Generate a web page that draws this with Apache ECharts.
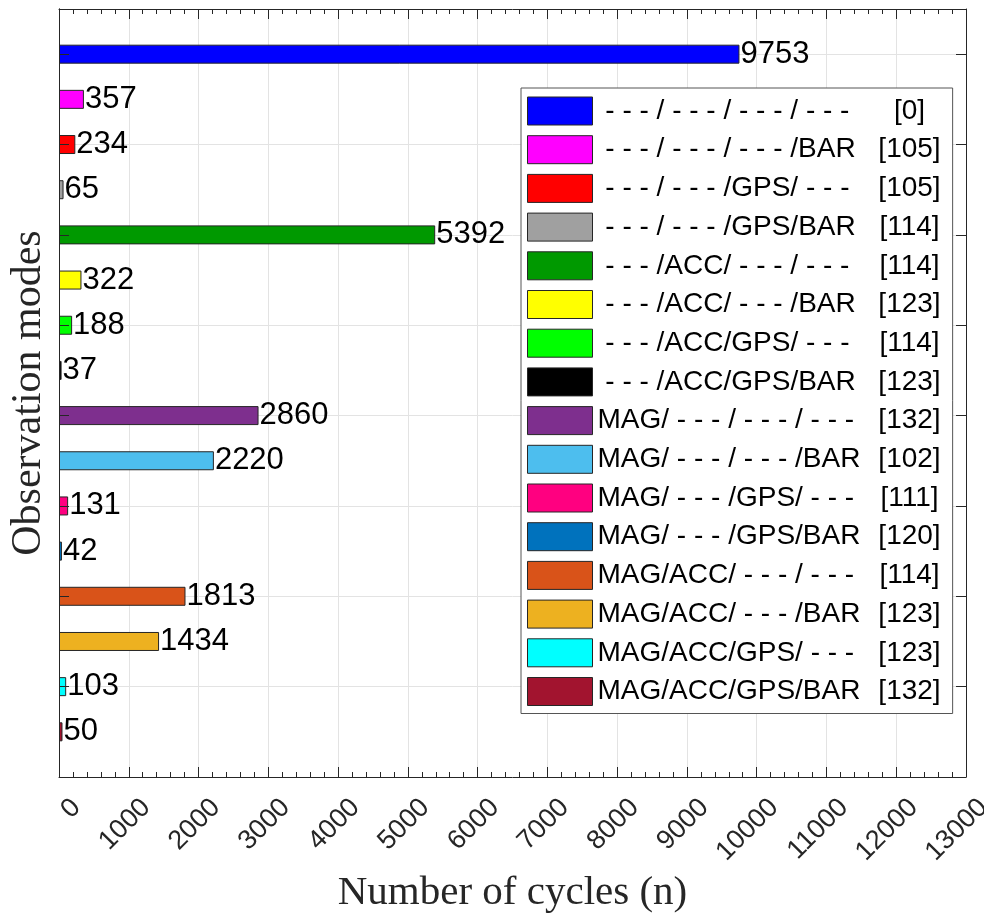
<!DOCTYPE html>
<html>
<head>
<meta charset="utf-8">
<script src="https://cdn.jsdelivr.net/npm/echarts@6/dist/echarts.min.js"></script>
<style>
  html, body { margin: 0; padding: 0; background: #fff; }
  #chart { width: 984px; height: 918px; }
</style>
</head>
<body>
<div id="chart"></div>
<script>
// observation modes (top to bottom)
const modes = [
  '- - - / - - - / - - - / - - -',
  '- - - / - - - / - - - /BAR',
  '- - - / - - - /GPS/ - - -',
  '- - - / - - - /GPS/BAR',
  '- - - /ACC/ - - - / - - -',
  '- - - /ACC/ - - - /BAR',
  '- - - /ACC/GPS/ - - -',
  '- - - /ACC/GPS/BAR',
  'MAG/ - - - / - - - / - - -',
  'MAG/ - - - / - - - /BAR',
  'MAG/ - - - /GPS/ - - -',
  'MAG/ - - - /GPS/BAR',
  'MAG/ACC/ - - - / - - -',
  'MAG/ACC/ - - - /BAR',
  'MAG/ACC/GPS/ - - -',
  'MAG/ACC/GPS/BAR'
];
const codes = [0, 105, 105, 114, 114, 123, 114, 123, 132, 102, 111, 120, 114, 123, 123, 132];
const counts = [9753, 357, 234, 65, 5392, 322, 188, 37, 2860, 2220, 131, 42, 1813, 1434, 103, 50];
const colors = [
  '#0000ff', '#ff00ff', '#ff0000', '#a0a0a0', '#009900', '#ffff00', '#00ff00', '#000000',
  '#7e2f8e', '#4dbeee', '#ff0080', '#0072bd', '#d95319', '#edb120', '#00ffff', '#a2142f'
];
const xMax = 13000;
const xStep = 1000;

const chart = echarts.init(document.getElementById('chart'));

// empty slot at each end so the bars sit at 1..16 on a 0..17 axis
const yCats = [''].concat(modes, ['']);
const oddTick = (idx) => idx % 2 === 1 && idx < yCats.length - 1;

const axisColor = '#262626';
const gridColor = '#e3e3e3';

const series = counts.map((v, i) => ({
  name: modes[i],
  type: 'bar',
  data: [[v, i + 1]],
  barWidth: 19,
  barGap: '-100%',
  itemStyle: { color: colors[i], borderColor: '#262626', borderWidth: 1 },
  label: {
    show: true,
    position: 'right',
    distance: 1,
    formatter: (p) => p.value[0],
    fontFamily: 'Liberation Sans',
    fontSize: 31,
    color: '#000'
  }
}));

// mirrored y axis with ticks only (drawn above the bars like matlab)
const tickAxis = (pos) => ({
  type: 'category',
  data: yCats,
  inverse: true,
  boundaryGap: false,
  position: pos,
  z: 10,
  axisLine: { show: true, onZero: false, lineStyle: { color: axisColor, width: 1 } },
  axisTick: { show: true, inside: false, length: -10, interval: oddTick, lineStyle: { color: axisColor } },
  splitLine: { show: false },
  axisLabel: { show: false }
});

const option = {
  animation: false,
  backgroundColor: '#fff',
  grid: { left: 59, right: 18, top: 9, bottom: 141, outerBoundsMode: 'none' },
  xAxis: [
    {
      type: 'value',
      position: 'bottom',
      min: 0,
      max: xMax,
      interval: xStep,
      name: 'Number of cycles (n)',
      nameLocation: 'middle',
      nameGap: 93,
      nameTextStyle: { fontFamily: 'Liberation Serif', fontSize: 41, color: axisColor },
      axisLine: { show: true, lineStyle: { color: axisColor, width: 1 } },
      axisTick: { show: true, inside: true, length: 10, lineStyle: { color: axisColor } },
      minorTick: { show: true, splitNumber: 5, length: 5, lineStyle: { color: axisColor } },
      splitLine: { show: true, lineStyle: { color: gridColor, width: 1 } },
      axisLabel: {
        rotate: 45,
        verticalAlign: 'top',
        padding: [11, 0, 0, 0],
        margin: 9,
        formatter: (v) => String(v),
        fontFamily: 'Liberation Sans',
        fontSize: 27,
        color: axisColor
      }
    },
    {
      type: 'value',
      position: 'top',
      min: 0,
      max: xMax,
      interval: xStep,
      axisLine: { show: true, lineStyle: { color: axisColor, width: 1 } },
      axisTick: { show: true, inside: true, length: 10, lineStyle: { color: axisColor } },
      minorTick: { show: true, splitNumber: 5, length: 5, lineStyle: { color: axisColor } },
      splitLine: { show: false },
      axisLabel: { show: false }
    }
  ],
  yAxis: [
    {
      type: 'category',
      data: yCats,
      inverse: true,
      boundaryGap: false,
      position: 'left',
      name: 'Observation modes',
      nameLocation: 'middle',
      nameRotate: 90,
      nameGap: 9,
      nameTextStyle: { fontFamily: 'Liberation Serif', fontSize: 42, color: axisColor },
      axisLine: { show: true, onZero: false, lineStyle: { color: axisColor, width: 1 } },
      axisTick: { show: false },
      splitLine: { show: true, interval: oddTick, lineStyle: { color: gridColor, width: 1 } },
      axisLabel: { show: false }
    },
    tickAxis('right'),
    tickAxis('left')
  ],
  legend: {
    orient: 'vertical',
    left: 521,
    top: 88,
    padding: [8.5, 12, 7.5, 6],
    itemWidth: 65,
    itemHeight: 28,
    itemGap: 9.7,
    backgroundColor: '#fff',
    borderColor: '#555',
    borderWidth: 1,
    borderRadius: 0,
    icon: 'rect',
    itemStyle: { borderColor: '#262626', borderWidth: 1 },
    data: modes,
    formatter: (name) => {
      const i = modes.indexOf(name);
      const lead = name.charAt(0) === '-' ? ' ' : '';
      return '{a|' + lead + name + '}{b|[' + codes[i] + ']}';
    },
    textStyle: {
      fontFamily: 'Liberation Sans',
      fontSize: 28,
      color: '#000',
      rich: {
        a: { width: 281, fontFamily: 'Liberation Sans', fontSize: 28, lineHeight: 28, color: '#000' },
        b: { width: 62, align: 'center', fontFamily: 'Liberation Sans', fontSize: 28, lineHeight: 28, color: '#000' }
      }
    }
  },
  series: series
};

chart.setOption(option);
window.addEventListener('resize', () => chart.resize());
</script>
</body>
</html>
